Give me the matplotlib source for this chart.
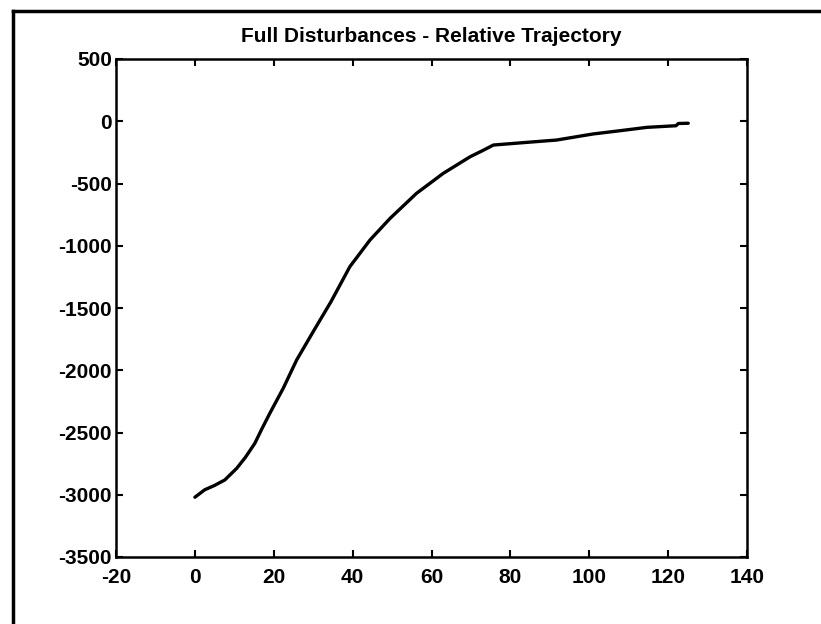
import matplotlib
matplotlib.use("Agg")
import matplotlib.pyplot as plt
from matplotlib.lines import Line2D

# trajectory
x_traj = [0.0, 2.5, 5.0, 7.6, 10.6, 12.8, 15.2, 17.0, 19.0, 22.4, 25.8, 30.0,
          34.5, 39.3, 44.4, 49.5, 56.2, 63.0, 69.8, 73.0, 75.7, 84.0, 91.7,
          101.0, 107.8, 114.6, 122.0, 122.6, 125.1]
y_traj = [-3020, -2960, -2925, -2881, -2788, -2700, -2587, -2470, -2346,
          -2145, -1918, -1690, -1450, -1168, -954, -780, -579, -418, -285,
          -235, -191, -170, -151, -102, -76, -49, -36, -18, -16]

title = "Full Disturbances - Relative Trajectory"
x_ticks = [-20, 0, 20, 40, 60, 80, 100, 120, 140]
y_ticks = [500, 0, -500, -1000, -1500, -2000, -2500, -3000, -3500]

plt.rcParams['font.family'] = ['Liberation Sans', 'DejaVu Sans']
plt.rcParams['font.weight'] = 'bold'
plt.rcParams['axes.unicode_minus'] = False

fig = plt.figure(figsize=(8.21, 6.24), dpi=100)
ax = fig.add_axes([116 / 821, 1 - 557 / 624, 631 / 821, 498 / 624])

ax.plot(x_traj, y_traj, color='black', lw=2.4, solid_capstyle='round')

ax.set_xlim(-20, 140)
ax.set_ylim(-3500, 500)
ax.set_xticks(x_ticks)
ax.set_yticks(y_ticks)
ax.tick_params(direction='in', length=5, width=1.5, top=True, right=True,
               labelsize=15)
ax.tick_params(axis='x', pad=8)
ax.tick_params(axis='y', pad=3)
for s in ax.spines.values():
    s.set_linewidth(1.8)

ax.set_title(title, fontsize=15, fontweight='bold', pad=12)

# outer frame of the scanned page (top and left edges)
fig.add_artist(Line2D([13 / 821, 1.0], [1 - 11 / 624, 1 - 11 / 624],
                      transform=fig.transFigure, color='black', lw=2.5))
fig.add_artist(Line2D([13 / 821, 13 / 821], [0.0, 1 - 11 / 624],
                      transform=fig.transFigure, color='black', lw=2.5))

fig.savefig("out.png", dpi=100)
